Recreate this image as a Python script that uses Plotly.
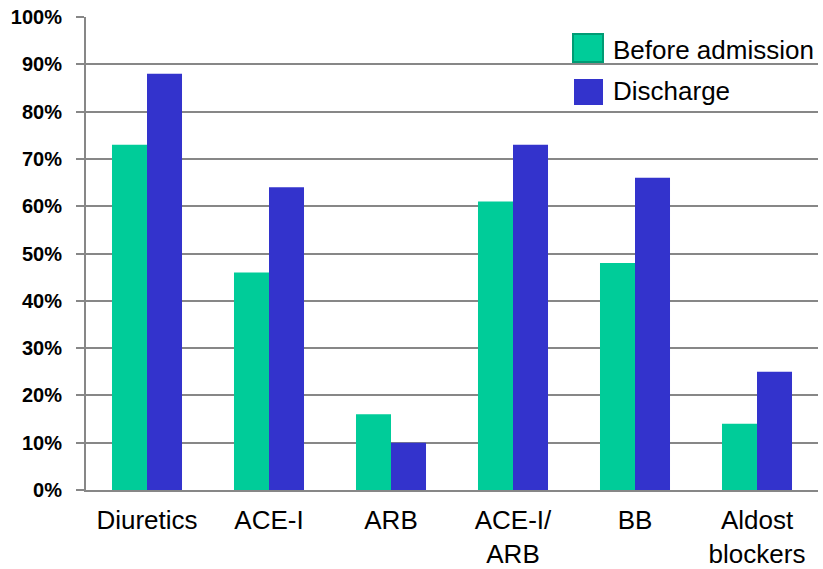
import plotly.graph_objects as go

categories = ["Diuretics", "ACE-I", "ARB", "ACE-I/<br>ARB", "BB", "Aldost<br>blockers"]
before_admission = [0.73, 0.46, 0.16, 0.61, 0.48, 0.14]
discharge = [0.88, 0.64, 0.10, 0.73, 0.66, 0.25]
series_names = ["Before admission", "Discharge"]
y_ticks = [i / 10 for i in range(11)]

GREEN = "#00CC99"
BLUE = "#3333CC"
GRID = "#878787"

W, H = 823, 569
L, R, T, B = 86, 5, 17, 79
pw, ph = W - L - R, H - T - B


def px_x(x):
    return (x - L) / pw


def px_y(y):
    return (H - B - y) / ph


fig = go.Figure()
fig.add_trace(go.Bar(x=categories, y=before_admission, name=series_names[0],
                     marker=dict(color=GREEN, line=dict(width=0)), showlegend=False))
fig.add_trace(go.Bar(x=categories, y=discharge, name=series_names[1],
                     marker=dict(color=BLUE, line=dict(width=0)), showlegend=False))

# legend drawn as swatches + labels
fig.add_shape(type="rect", xref="paper", yref="paper",
              x0=px_x(573), x1=px_x(603), y0=px_y(62), y1=px_y(34),
              fillcolor=GREEN, line=dict(color="#009B74", width=2))
fig.add_shape(type="rect", xref="paper", yref="paper",
              x0=px_x(574), x1=px_x(603), y0=px_y(105), y1=px_y(79),
              fillcolor=BLUE, line=dict(width=0))
for name, yc in zip(series_names, [50, 91]):
    fig.add_annotation(text=name, xref="paper", yref="paper",
                       x=px_x(611), y=px_y(yc), xanchor="left", yanchor="middle",
                       showarrow=False,
                       font=dict(family="Liberation Sans, Arial", size=26, color="#000"))

fig.update_layout(
    width=W, height=H,
    margin=dict(l=L, r=R, t=T, b=B, pad=0, autoexpand=False),
    paper_bgcolor="white", plot_bgcolor="white",
    barmode="group", bargap=0.426, bargroupgap=0,
    font=dict(family="Liberation Sans, Arial", color="#000"),
    xaxis=dict(showgrid=False, showline=True, linecolor=GRID, linewidth=2,
               ticks="", tickfont=dict(size=26, color="#000"), ticklabelstandoff=6,
               automargin=False),
    yaxis=dict(range=[0, 1], tickvals=y_ticks, tickformat=".0%",
               showgrid=True, gridcolor=GRID, gridwidth=2,
               showline=True, linecolor=GRID, linewidth=2,
               ticks="outside", ticklen=8, tickcolor=GRID, tickwidth=2,
               tickfont=dict(size=20, color="#000", weight="bold"),
               ticklabelstandoff=10, zeroline=False, automargin=False),
)

fig.write_html("out.html")
